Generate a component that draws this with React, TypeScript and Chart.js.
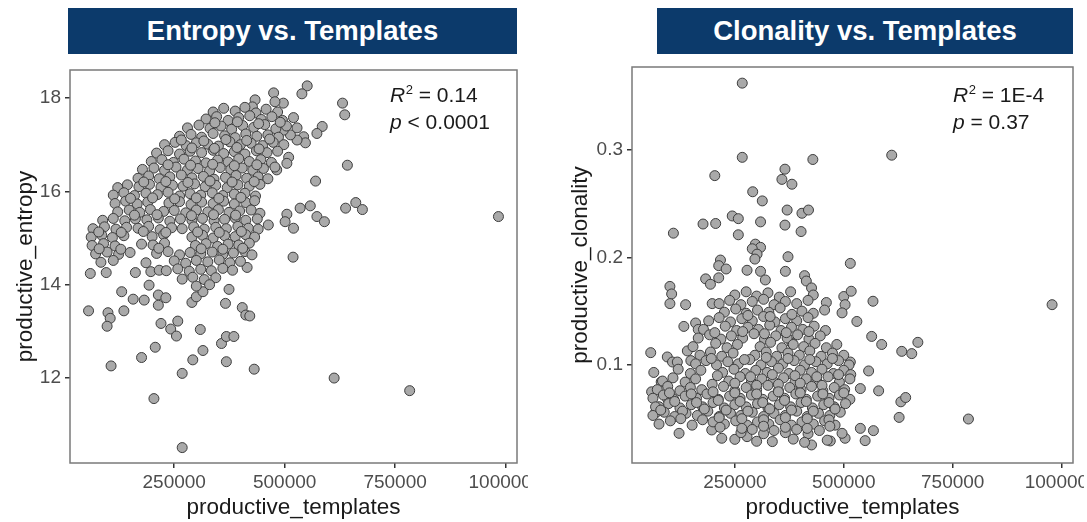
import React, { useEffect, useRef } from "react";
import { Chart, registerables } from "chart.js";

Chart.register(...registerables);
Chart.defaults.font.family = "'Liberation Sans', Arial, Helvetica, sans-serif";

// ---------- data ----------
const xTickValues = [250000, 500000, 750000, 1000000];
const entropyTickValues = [12, 14, 16, 18];
const clonalityTickValues = [0.1, 0.2, 0.3];

const entropyTitle = "Entropy vs. Templates";
const clonalityTitle = "Clonality vs. Templates";
const entropyStats = ["0.14", "< 0.0001"];
const clonalityStats = ["1E-4", "= 0.37"];

// [productive_templates, productive_entropy]
const entropyPoints: [number, number][] = [
  [984000, 15.46], [783000, 11.73], [612000, 12.0], [268000, 10.51], [204000, 11.56], [107000, 12.26],
  [176000, 12.44], [207000, 12.66], [268000, 12.1], [292000, 12.39], [315000, 12.59], [368000, 12.35],
  [431000, 12.19], [357000, 12.74], [368000, 12.89], [385000, 12.89], [309000, 13.04], [258000, 13.22],
  [242000, 13.05], [255000, 12.9], [220000, 13.17], [56000, 13.44], [100000, 13.4], [105000, 13.28],
  [98000, 13.11], [136000, 13.44], [131000, 13.85], [157000, 13.69], [182000, 13.67], [193000, 13.99],
  [214000, 13.78], [231000, 13.72], [214000, 13.56], [290000, 13.62], [300000, 13.74], [315000, 13.85],
  [366000, 13.6], [374000, 13.9], [404000, 13.51], [412000, 13.35], [421000, 13.33], [415000, 14.37],
  [519000, 14.59], [60000, 14.24], [96000, 14.26], [162000, 14.26], [197000, 14.28], [216000, 14.31],
  [551000, 18.26], [539000, 18.09], [475000, 18.11], [497000, 17.89], [478000, 17.92], [433000, 17.96],
  [427000, 17.81], [631000, 17.89], [636000, 17.64], [585000, 17.39], [573000, 17.24], [543000, 17.17],
  [547000, 17.04], [528000, 17.1], [513000, 17.21], [497000, 17.31], [642000, 16.56], [570000, 16.22],
  [509000, 16.73], [505000, 16.6], [482000, 16.46], [535000, 15.64], [558000, 15.69], [573000, 15.46],
  [590000, 15.35], [638000, 15.64], [661000, 15.76], [676000, 15.61], [505000, 15.51], [501000, 15.35],
  [520000, 15.21], [463000, 15.28], [444000, 15.53],
  [338000, 17.7], [362000, 17.78], [388000, 17.72], [410000, 17.8], [435000, 17.68], [458000, 17.76], [484000, 17.7],
  [322000, 17.55], [346000, 17.6], [372000, 17.52], [396000, 17.58], [421000, 17.62], [447000, 17.54], [471000, 17.6],
  [495000, 17.52], [520000, 17.58],
  [280000, 17.36], [306000, 17.42], [331000, 17.35], [356000, 17.4], [380000, 17.33], [405000, 17.41], [430000, 17.37],
  [455000, 17.43], [480000, 17.34], [504000, 17.4], [528000, 17.36],
  [262000, 17.18], [288000, 17.22], [312000, 17.16], [338000, 17.24], [364000, 17.19], [388000, 17.15], [412000, 17.23],
  [437000, 17.18], [462000, 17.21], [486000, 17.16],
  [228000, 17.0], [252000, 17.05], [277000, 16.98], [300000, 17.04], [326000, 17.01], [350000, 16.97], [376000, 17.06],
  [400000, 17.0], [424000, 17.03], [450000, 16.98], [474000, 17.05], [498000, 17.0],
  [210000, 16.82], [236000, 16.87], [262000, 16.8], [286000, 16.86], [312000, 16.83], [338000, 16.88], [362000, 16.81],
  [386000, 16.85], [410000, 16.8], [436000, 16.87], [460000, 16.83], [484000, 16.86],
  [198000, 16.64], [222000, 16.68], [248000, 16.62], [272000, 16.69], [298000, 16.65], [322000, 16.61], [348000, 16.67],
  [372000, 16.63], [396000, 16.7], [420000, 16.64], [446000, 16.68], [470000, 16.62],
  [178000, 16.47], [204000, 16.5], [228000, 16.45], [254000, 16.52], [280000, 16.46], [304000, 16.49], [330000, 16.44],
  [354000, 16.51], [378000, 16.47], [404000, 16.5], [428000, 16.45], [452000, 16.49], [478000, 16.52],
  [168000, 16.28], [192000, 16.33], [216000, 16.27], [240000, 16.31], [266000, 16.35], [290000, 16.29], [316000, 16.32],
  [340000, 16.26], [366000, 16.3], [390000, 16.34], [414000, 16.28], [440000, 16.31], [462000, 16.27],
  [122000, 16.08], [144000, 16.14], [170000, 16.1], [194000, 16.15], [220000, 16.09], [246000, 16.13], [270000, 16.11],
  [296000, 16.16], [320000, 16.1], [344000, 16.13], [370000, 16.08], [394000, 16.14], [420000, 16.11], [444000, 16.15],
  [112000, 15.92], [136000, 15.97], [160000, 15.91], [186000, 15.96], [212000, 15.93], [236000, 15.98], [262000, 15.9],
  [286000, 15.95], [310000, 15.92], [336000, 15.97], [360000, 15.91], [386000, 15.94], [410000, 15.96], [434000, 15.9],
  [116000, 15.74], [140000, 15.79], [166000, 15.73], [190000, 15.77], [238000, 15.75], [262000, 15.78], [288000, 15.72],
  [312000, 15.77], [338000, 15.74], [362000, 15.79], [386000, 15.73], [412000, 15.76], [432000, 15.8],
  [122000, 15.56], [148000, 15.6], [172000, 15.55], [196000, 15.61], [226000, 15.57], [250000, 15.59], [276000, 15.54],
  [300000, 15.6], [326000, 15.56], [350000, 15.61], [374000, 15.55], [398000, 15.58], [424000, 15.6],
  [88000, 15.38], [112000, 15.42], [138000, 15.37], [162000, 15.41], [188000, 15.39], [214000, 15.43], [240000, 15.36],
  [264000, 15.41], [290000, 15.38], [314000, 15.42], [340000, 15.37], [364000, 15.4], [388000, 15.43], [412000, 15.38],
  [438000, 15.41],
  [66000, 15.2], [92000, 15.24], [118000, 15.19], [142000, 15.23], [168000, 15.21], [192000, 15.25], [218000, 15.18],
  [244000, 15.22], [268000, 15.2], [294000, 15.24], [318000, 15.19], [344000, 15.23], [368000, 15.2], [394000, 15.25],
  [418000, 15.21], [440000, 15.19],
  [62000, 15.02], [86000, 15.06], [110000, 15.01], [136000, 15.05], [200000, 15.03], [226000, 15.07], [290000, 15.02],
  [314000, 15.06], [338000, 15.0], [364000, 15.05], [388000, 15.03], [412000, 15.07], [432000, 15.02],
  [64000, 14.84], [90000, 14.88], [116000, 14.83], [176000, 14.87], [202000, 14.85], [228000, 14.89], [298000, 14.84],
  [322000, 14.88], [348000, 14.82], [372000, 14.87], [396000, 14.85], [420000, 14.89],
  [72000, 14.66], [98000, 14.7], [124000, 14.65], [150000, 14.69], [210000, 14.67], [236000, 14.71], [262000, 14.64],
  [286000, 14.69], [310000, 14.66], [336000, 14.7], [360000, 14.65], [384000, 14.68], [410000, 14.71], [426000, 14.64],
  [84000, 14.48], [112000, 14.52], [186000, 14.47], [250000, 14.51], [276000, 14.46], [300000, 14.52], [326000, 14.49],
  [352000, 14.53], [376000, 14.47], [400000, 14.5],
  [232000, 14.3], [258000, 14.34], [284000, 14.29], [310000, 14.33], [334000, 14.3], [360000, 14.35], [382000, 14.31],
  [268000, 14.12], [292000, 14.16], [318000, 14.11], [344000, 14.15], [300000, 13.97], [330000, 14.0],
  [342000, 17.47], [393000, 17.49], [441000, 17.45], [490000, 17.48],
  [266000, 17.1], [317000, 17.08], [367000, 17.11], [414000, 17.09], [466000, 17.12],
  [290000, 16.93], [341000, 16.92], [392000, 16.94], [442000, 16.91],
  [236000, 16.57], [287000, 16.56], [337000, 16.58], [386000, 16.55], [437000, 16.57],
  [181000, 16.2], [231000, 16.21], [281000, 16.19], [331000, 16.22], [381000, 16.2], [431000, 16.21],
  [151000, 15.85], [201000, 15.86], [251000, 15.84], [300000, 15.86], [351000, 15.85], [401000, 15.87],
  [160000, 15.49], [211000, 15.5], [289000, 15.48], [339000, 15.5], [389000, 15.49],
  [79000, 15.13], [130000, 15.12], [180000, 15.14], [231000, 15.12], [303000, 15.13], [352000, 15.12], [402000, 15.14],
  [80000, 14.77], [129000, 14.76], [215000, 14.78], [311000, 14.77], [360000, 14.76], [405000, 14.78],
];

// [productive_templates, productive_clonality]
const clonalityPoints: [number, number][] = [
  [267000, 0.362], [267000, 0.293], [429000, 0.291], [610000, 0.295], [204000, 0.276], [365000, 0.282],
  [358000, 0.2725], [381000, 0.268], [291000, 0.261], [313000, 0.2525], [370000, 0.244], [404000, 0.241],
  [419000, 0.244], [244000, 0.2385], [258000, 0.236], [177000, 0.231], [206000, 0.2315], [309000, 0.233],
  [365000, 0.23], [402000, 0.224], [258000, 0.221], [109000, 0.2225], [297000, 0.2123], [309000, 0.2093],
  [290000, 0.208], [301000, 0.203], [296000, 0.1984], [372000, 0.2006], [515000, 0.1944], [217000, 0.1975],
  [213000, 0.1923], [230000, 0.1892], [213000, 0.181], [183000, 0.18], [194000, 0.175], [278000, 0.188],
  [309000, 0.187], [366000, 0.187], [320000, 0.179], [410000, 0.183], [414000, 0.178], [426000, 0.1716],
  [101000, 0.173], [105000, 0.166], [101000, 0.157], [137000, 0.156], [198000, 0.157], [460000, 0.158],
  [500000, 0.1636], [517000, 0.1685], [503000, 0.156], [496000, 0.1484], [567000, 0.1592], [530000, 0.1404],
  [133000, 0.1358], [160000, 0.139], [166000, 0.133], [381000, 0.1203], [564000, 0.1265], [587000, 0.119],
  [670000, 0.121], [633000, 0.1126], [656000, 0.1105], [57000, 0.1114], [141000, 0.113], [149000, 0.104],
  [95000, 0.1074], [107000, 0.1027], [118000, 0.1027], [81000, 0.0842], [59000, 0.075], [95000, 0.0688],
  [76000, 0.0611], [67000, 0.0549], [122000, 0.0364], [197000, 0.0395], [220000, 0.0318], [250000, 0.0308],
  [278000, 0.0333], [336000, 0.0287], [426000, 0.0256], [469000, 0.0293], [503000, 0.0318], [496000, 0.0364],
  [538000, 0.041], [568000, 0.0389], [549000, 0.0296], [627000, 0.0512], [631000, 0.0657], [642000, 0.0697],
  [580000, 0.0759], [557000, 0.0944], [538000, 0.078], [786000, 0.0497], [978000, 0.156], [515000, 0.1027],
  [250000, 0.165], [276000, 0.168], [300000, 0.164], [326000, 0.167], [352000, 0.163], [378000, 0.168], [430000, 0.165],
  [214000, 0.157], [238000, 0.16], [264000, 0.156], [290000, 0.159], [316000, 0.161], [340000, 0.156], [366000, 0.159],
  [392000, 0.157], [418000, 0.16],
  [226000, 0.149], [252000, 0.152], [276000, 0.148], [302000, 0.151], [328000, 0.149], [354000, 0.153], [404000, 0.15],
  [430000, 0.148], [456000, 0.151],
  [190000, 0.141], [214000, 0.144], [240000, 0.14], [266000, 0.143], [290000, 0.141], [316000, 0.145], [342000, 0.14],
  [366000, 0.143], [392000, 0.141], [418000, 0.144],
  [178000, 0.133], [228000, 0.136], [254000, 0.132], [280000, 0.135], [304000, 0.133], [330000, 0.137], [356000, 0.132],
  [380000, 0.135], [406000, 0.133], [432000, 0.136], [458000, 0.132],
  [166000, 0.125], [192000, 0.128], [218000, 0.124], [242000, 0.127], [268000, 0.125], [294000, 0.129], [318000, 0.124],
  [344000, 0.127], [370000, 0.125], [394000, 0.128], [420000, 0.124], [446000, 0.127],
  [154000, 0.117], [206000, 0.12], [232000, 0.116], [256000, 0.119], [308000, 0.117], [332000, 0.121], [358000, 0.116],
  [384000, 0.119], [408000, 0.117], [434000, 0.12], [460000, 0.116], [484000, 0.119],
  [170000, 0.109], [194000, 0.112], [220000, 0.108], [246000, 0.111], [296000, 0.109], [322000, 0.112], [346000, 0.108],
  [372000, 0.111], [398000, 0.109], [422000, 0.113], [448000, 0.108], [474000, 0.111], [500000, 0.109],
  [160000, 0.101], [184000, 0.104], [208000, 0.1], [234000, 0.103], [258000, 0.101], [284000, 0.105], [310000, 0.1],
  [334000, 0.103], [360000, 0.101], [386000, 0.104], [410000, 0.1], [436000, 0.103], [462000, 0.101], [488000, 0.104],
  [512000, 0.1],
  [64000, 0.093], [120000, 0.096], [148000, 0.092], [172000, 0.095], [222000, 0.093], [248000, 0.096], [274000, 0.092],
  [298000, 0.095], [324000, 0.093], [350000, 0.097], [374000, 0.092], [400000, 0.095], [426000, 0.093], [450000, 0.096],
  [476000, 0.092], [500000, 0.095], [516000, 0.091],
  [84000, 0.085], [108000, 0.088], [136000, 0.084], [160000, 0.087], [236000, 0.085], [262000, 0.089], [288000, 0.084],
  [312000, 0.087], [338000, 0.085], [362000, 0.088], [388000, 0.084], [414000, 0.087], [438000, 0.085], [464000, 0.089],
  [490000, 0.084], [514000, 0.087],
  [72000, 0.077], [96000, 0.08], [124000, 0.076], [148000, 0.079], [174000, 0.077], [224000, 0.08], [250000, 0.076],
  [276000, 0.079], [300000, 0.077], [326000, 0.081], [350000, 0.076], [376000, 0.079], [402000, 0.077], [426000, 0.08],
  [452000, 0.076], [478000, 0.079], [502000, 0.077],
  [62000, 0.069], [86000, 0.072], [110000, 0.068], [136000, 0.071], [162000, 0.069], [186000, 0.073], [212000, 0.068],
  [238000, 0.071], [262000, 0.069], [288000, 0.072], [314000, 0.068], [338000, 0.071], [364000, 0.069], [390000, 0.073],
  [414000, 0.068], [440000, 0.071], [466000, 0.069], [490000, 0.072], [514000, 0.068],
  [68000, 0.061], [98000, 0.064], [124000, 0.06], [150000, 0.063], [176000, 0.061], [200000, 0.065], [226000, 0.06],
  [250000, 0.063], [276000, 0.061], [302000, 0.064], [326000, 0.06], [352000, 0.063], [378000, 0.061], [402000, 0.065],
  [428000, 0.06], [454000, 0.063], [478000, 0.061], [504000, 0.064],
  [62000, 0.053], [88000, 0.056], [112000, 0.052], [138000, 0.055], [164000, 0.053], [188000, 0.057], [214000, 0.052],
  [240000, 0.055], [264000, 0.053], [290000, 0.056], [316000, 0.052], [340000, 0.055], [366000, 0.053], [392000, 0.057],
  [416000, 0.052], [442000, 0.055], [468000, 0.053], [492000, 0.056],
  [76000, 0.045], [102000, 0.048], [152000, 0.044], [200000, 0.047], [226000, 0.045], [252000, 0.048], [278000, 0.044],
  [302000, 0.047], [328000, 0.045], [354000, 0.049], [380000, 0.044], [404000, 0.047], [430000, 0.045], [456000, 0.048],
  [480000, 0.044],
  [264000, 0.037], [290000, 0.04], [316000, 0.036], [340000, 0.039], [366000, 0.037], [392000, 0.04], [418000, 0.036],
  [444000, 0.039], [300000, 0.029], [384000, 0.031], [410000, 0.028], [462000, 0.03],
  [280000, 0.146], [331000, 0.145], [381000, 0.147],
  [204000, 0.13], [268000, 0.131], [318000, 0.129], [368000, 0.13], [420000, 0.131],
  [196000, 0.106], [272000, 0.105], [322000, 0.107], [372000, 0.106], [422000, 0.105], [474000, 0.106],
  [210000, 0.09], [286000, 0.089], [336000, 0.091], [388000, 0.09], [438000, 0.089], [488000, 0.091],
  [198000, 0.082], [250000, 0.083], [300000, 0.081], [350000, 0.082], [400000, 0.083], [450000, 0.081],
  [100000, 0.074], [150000, 0.073], [200000, 0.075], [250000, 0.074], [300000, 0.073], [350000, 0.075], [400000, 0.074],
  [452000, 0.073], [500000, 0.074],
  [112000, 0.066], [162000, 0.065], [212000, 0.067], [262000, 0.066], [314000, 0.065], [364000, 0.067], [414000, 0.066],
  [466000, 0.065],
  [80000, 0.058], [130000, 0.057], [180000, 0.059], [230000, 0.058], [280000, 0.057], [330000, 0.059], [380000, 0.058],
  [430000, 0.057], [480000, 0.059],
  [126000, 0.05], [176000, 0.049], [214000, 0.051], [266000, 0.05], [316000, 0.049], [366000, 0.051], [416000, 0.05],
  [466000, 0.049],
  [216000, 0.042], [266000, 0.041], [316000, 0.043], [366000, 0.042], [416000, 0.041], [468000, 0.043],
];

// ---------- chart panel ----------
type PanelSpec = {
  points: [number, number][];
  yTicks: number[];
  yMin: number;
  yMax: number;
  yTitle: string;
  yTitlePad: number;
  yWidth: number;
  top: number;
  rightPad: number;
  stats: string[];
  statsOffset: number;
};

const TEXT_DARK = "#1a1a1a";
const TICK_GREY = "#4d4d4d";

function makeConfig(spec: PanelSpec): any {
  const boxPlugin = {
    id: "panelBox",
    afterDatasetsDraw(chart: any) {
      const { ctx, chartArea: a } = chart;
      ctx.save();
      ctx.strokeStyle = "#7a7a7a";
      ctx.lineWidth = 1.5;
      ctx.strokeRect(a.left, a.top, a.right - a.left, a.bottom - a.top);
      ctx.restore();
    },
  };
  const notePlugin = {
    id: "statNote",
    afterDraw(chart: any) {
      const { ctx, chartArea: a } = chart;
      const x0 = a.right - spec.statsOffset;
      const fam = "'Liberation Sans', Arial, sans-serif";
      ctx.save();
      ctx.fillStyle = TEXT_DARK;
      ctx.textBaseline = "alphabetic";
      ctx.textAlign = "left";
      let x = x0;
      const y1 = 102;
      ctx.font = `italic 21px ${fam}`;
      ctx.fillText("R", x, y1);
      x += ctx.measureText("R").width + 0.5;
      ctx.font = `13px ${fam}`;
      ctx.fillText("2", x, y1 - 8);
      x += ctx.measureText("2").width;
      ctx.font = `21px ${fam}`;
      ctx.fillText(" = " + spec.stats[0], x, y1);
      x = x0;
      const y2 = 129;
      ctx.font = `italic 21px ${fam}`;
      ctx.fillText("p", x, y2);
      x += ctx.measureText("p").width;
      ctx.font = `21px ${fam}`;
      ctx.fillText(" " + spec.stats[1], x, y2);
      ctx.restore();
    },
  };

  return {
    type: "scatter",
    data: {
      datasets: [
        {
          data: spec.points.map(([x, y]) => ({ x, y })),
          backgroundColor: "#a9a9a9",
          borderColor: "#3d3d3d",
          borderWidth: 1,
          pointRadius: 5,
          pointHoverRadius: 5,
        },
      ],
    },
    options: {
      responsive: false,
      animation: false,
      devicePixelRatio: 1,
      events: [],
      layout: { padding: { top: spec.top, right: spec.rightPad, bottom: 0, left: 0 } },
      plugins: { legend: { display: false }, tooltip: { enabled: false }, title: { display: false } },
      scales: {
        x: {
          type: "linear",
          min: 14000,
          max: 1026000,
          afterBuildTicks: (s: any) => {
            s.ticks = xTickValues.map((v) => ({ value: v }));
          },
          afterFit: (s: any) => {
            s.height = 59;
            s.paddingLeft = 0;
            s.paddingRight = 0;
          },
          ticks: {
            autoSkip: false,
            maxRotation: 0,
            minRotation: 0,
            padding: 3,
            color: TICK_GREY,
            font: { size: 19 },
            callback: (v: any) => String(v),
          },
          grid: { drawOnChartArea: false, tickLength: 5, color: "#333", lineWidth: 1.5 },
          border: { display: false },
          title: {
            display: true,
            text: "productive_templates",
            color: TEXT_DARK,
            font: { size: 22.5 },
            padding: { top: 0, bottom: 1 },
          },
        },
        y: {
          type: "linear",
          min: spec.yMin,
          max: spec.yMax,
          afterBuildTicks: (s: any) => {
            s.ticks = spec.yTicks.map((v) => ({ value: v }));
          },
          afterFit: (s: any) => {
            s.width = spec.yWidth;
            s.paddingTop = 0;
            s.paddingBottom = 0;
          },
          ticks: {
            autoSkip: false,
            padding: 4,
            color: TICK_GREY,
            font: { size: 19 },
            callback: (v: any) => String(v),
          },
          grid: { drawOnChartArea: false, tickLength: 5, color: "#333", lineWidth: 1.5 },
          border: { display: false },
          title: {
            display: true,
            text: spec.yTitle,
            color: TEXT_DARK,
            font: { size: 22.5 },
            padding: { top: spec.yTitlePad, bottom: 0 },
          },
        },
      },
    },
    plugins: [boxPlugin, notePlugin],
  };
}

function ScatterPanel(props: {
  spec: PanelSpec;
  left: number;
  width: number;
  title: string;
  bannerLeft: number;
  bannerWidth: number;
}) {
  const ref = useRef<HTMLCanvasElement | null>(null);
  useEffect(() => {
    if (!ref.current) return;
    const chart = new Chart(ref.current, makeConfig(props.spec));
    return () => chart.destroy();
  }, []);
  return (
    <>
      <div
        style={{
          position: "absolute",
          left: props.bannerLeft,
          top: 8,
          width: props.bannerWidth,
          height: 46,
          background: "#0c3a6b",
          color: "#ffffff",
          fontFamily: "'Liberation Sans', Arial, sans-serif",
          fontWeight: 700,
          fontSize: 27.5,
          lineHeight: "46px",
          textAlign: "center",
          whiteSpace: "nowrap",
        }}
      >
        {props.title}
      </div>
      <canvas
        ref={ref}
        width={props.width}
        height={522}
        style={{ position: "absolute", left: props.left, top: 0, width: props.width, height: 522 }}
      />
    </>
  );
}

export default function App() {
  const entropySpec: PanelSpec = {
    points: entropyPoints,
    yTicks: entropyTickValues,
    yMin: 10.18,
    yMax: 18.6,
    yTitle: "productive_entropy",
    yTitlePad: 12,
    yWidth: 70,
    top: 70,
    rightPad: 11,
    stats: entropyStats,
    statsOffset: 127,
  };
  const clonalitySpec: PanelSpec = {
    points: clonalityPoints,
    yTicks: clonalityTickValues,
    yMin: 0.0088,
    yMax: 0.377,
    yTitle: "productive_clonality",
    yTitlePad: 22,
    yWidth: 87,
    top: 67,
    rightPad: 11,
    stats: clonalityStats,
    statsOffset: 120,
  };
  return (
    <div
      style={{
        position: "fixed",
        left: 0,
        top: 0,
        width: 1087,
        height: 522,
        background: "#ffffff",
        overflow: "hidden",
      }}
    >
      <ScatterPanel spec={entropySpec} left={0} width={528} title={entropyTitle} bannerLeft={68} bannerWidth={449} />
      <ScatterPanel
        spec={clonalitySpec}
        left={545}
        width={539}
        title={clonalityTitle}
        bannerLeft={657}
        bannerWidth={416}
      />
    </div>
  );
}
